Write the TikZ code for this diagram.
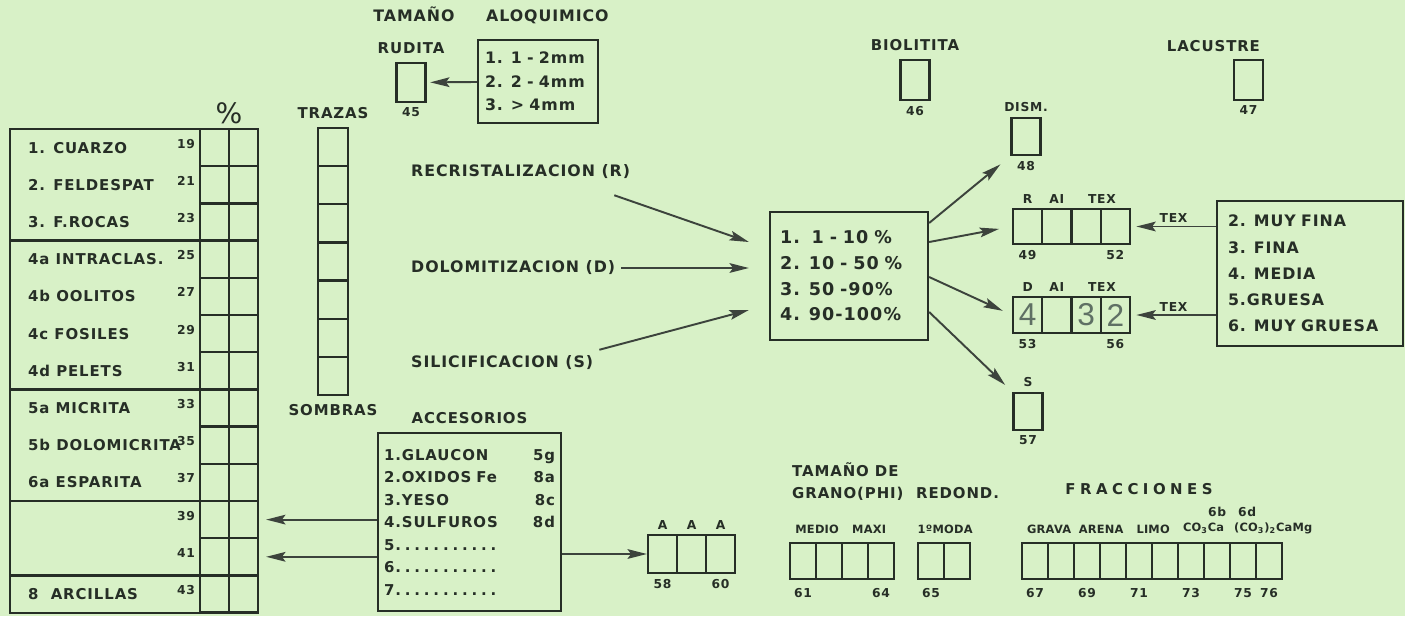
\documentclass[tikz,border=0pt]{standalone}
\usepackage{fontspec}
\setmainfont{DejaVu Sans}[LetterSpace=6]
\newfontfamily\handfont{Liberation Sans}
\usepackage{tikz}
\usetikzlibrary{arrows.meta, positioning, calc}

\definecolor{paper}{RGB}{216,241,199}
\definecolor{ink}{RGB}{38,46,38}
\definecolor{pencil}{RGB}{95,112,100}

\begin{document}
\begin{tikzpicture}[x=0.02cm, y=-0.02cm,
    every node/.style={text=ink, font=\bfseries\fontsize{8.5}{10}\selectfont},
    head/.style={font=\bfseries\fontsize{9}{11}\selectfont},
    cell/.style={draw=ink, line width=1.3pt, minimum width=0.58cm, minimum height=0.72cm, inner sep=0pt},
    frame/.style={draw=ink, line width=1.3pt},
    listbox/.style={draw=ink, line width=1.3pt, align=left, inner ysep=0pt},
    tag/.style={font=\bfseries\fontsize{7}{8}\selectfont, inner sep=1.5pt},
    ftag/.style={font=\bfseries\fontsize{6.5}{7}\selectfont\addfontfeature{LetterSpace=2}, inner sep=1.5pt},
    num/.style={font=\bfseries\fontsize{7}{8}\selectfont, inner sep=1.5pt},
    arr/.style={draw=ink!90, line width=1.1pt, -{Stealth[length=11pt, width=5.5pt, inset=2pt]}}]

    \fill[paper] (0,0) rectangle (1405,616);
    \useasboundingbox (0,0) rectangle (1405,616);

    % tabla de componentes
    \draw[frame] (10,129) rectangle (200,613);
    \foreach \y in {240.6, 389.4, 501, 575.4}
        \draw[frame] (10,\y) -- (200,\y);
    \foreach \txt/\num [count=\i] in {1. CUARZO/19, 2. FELDESPAT/21, 3. F.ROCAS/23, 4a INTRACLAS./25, 4b OOLITOS/27, 4c FOSILES/29, 4d PELETS/31, 5a MICRITA/33, 5b DOLOMICRITA/35, 6a ESPARITA/37, {}/39, {}/41, 8\ \ ARCILLAS/43} {
        \node[cell, minimum height=0.744cm] (pa\i) at (214.5, {129+(\i-0.5)*37.2}) {};
        \node[cell, minimum height=0.744cm] (pb\i) at (243.5, {129+(\i-0.5)*37.2}) {};
        \node[anchor=west] (lab\i) at (22, {129+(\i-0.5)*37.2}) {\txt};
        \node[num, anchor=east] (nr\i) at (198, {125+(\i-0.5)*37.2}) {\num};
    }
    \node[font=\fontsize{16}{16}\selectfont] (pcsign) at (229,113) {\%};

    % trazas
    \foreach \i in {1,...,7}
        \node[cell, minimum width=0.6cm, minimum height=0.763cm] (tz\i) at (333, {128+(\i-0.5)*38.14}) {};
    \node[above=1pt of tz1] (trazas) {TRAZAS};
    \node[below=1pt of tz7] (sombras) {SOMBRAS};

    % tamano aloquimico
    \node[head] (tamalo) at (491,15) {TAMAÑO\quad\quad ALOQUIMICO};
    \node[cell, minimum height=0.78cm] (b45) at (411,82.5) {};
    \node[above=1pt of b45] (rudita) {RUDITA};
    \node[num, below=1pt of b45] (n45) {45};
    \node[listbox, text width=2.12cm, inner xsep=0.14cm, minimum height=1.66cm, font=\bfseries\fontsize{9}{13.4}\selectfont] (tam) at (538,81.5) {1. 1 - 2mm\\2. 2 - 4mm\\3. > 4mm};
    \draw[arr, shorten >=2pt] (tam) -- (b45);

    \node[cell, minimum height=0.8cm] (b46) at (915,80) {};
    \node[above=1pt of b46] (biol) {BIOLITITA};
    \node[num, below=1pt of b46] (n46) {46};
    \node[cell, minimum height=0.8cm] (b47) at (1248.5,80) {};
    \node[anchor=south east] (lacus) at ($(b47.north east)+(2,-1)$) {LACUSTRE};
    \node[num, below=1pt of b47] (n47) {47};

    % procesos
    \node[anchor=west, head] (recr) at (405,172) {RECRISTALIZACION (R)};
    \node[anchor=west, head] (dolo) at (405,268) {DOLOMITIZACION (D)};
    \node[anchor=west, head] (sili) at (405,363) {SILICIFICACION (S)};
    \node[listbox, text width=2.76cm, inner xsep=0.2cm, minimum height=2.56cm, font=\bfseries\fontsize{10}{14.6}\selectfont] (pct) at (849,276) {1.\ \ 1 - 10 \%\\2. 10 - 50 \%\\3. 50 -90\%\\4. 90-100\%};
    \draw[arr] ($(recr.south east)+(-22,10)$) -- ($(pct.west)+(-20,-34)$);
    \draw[arr] (dolo.east) -- ($(pct.west)+(-20,-8)$);
    \draw[arr] (sili.north east) -- ($(pct.west)+(-20,34)$);

    \node[cell, minimum height=0.74cm] (b48) at (1026,136.5) {};
    \node[tag, above=1pt of b48] (dism) {DISM.};
    \node[num, below=1pt of b48] (n48) {48};
    \foreach \i in {1,...,4} {
        \node[cell, minimum width=0.585cm, minimum height=0.7cm] (r\i) at ({1027.6+(\i-1)*29.25}, 226.5) {};
        \node[cell, minimum width=0.585cm, minimum height=0.72cm] (d\i) at ({1027.6+(\i-1)*29.25}, 315) {};
    }
    \node[tag, above=1pt of r1] (r-lab) {R};
    \node[tag, above=1pt of r2] (r-ai) {AI};
    \node[tag, above=1pt of r3.north east] (r-tex) {TEX};
    \node[num, below=1pt of r1] (n49) {49};
    \node[num, below=1pt of r4] (n52) {52};
    \node[tag, above=1pt of d1] (d-lab) {D};
    \node[tag, above=1pt of d2] (d-ai) {AI};
    \node[tag, above=1pt of d3.north east] (d-tex) {TEX};
    \node[num, below=1pt of d1] (n53) {53};
    \node[num, below=1pt of d4] (n56) {56};
    \node[font=\handfont\fontsize{18}{18}\selectfont, text=pencil] (h4) at (d1) {4};
    \node[font=\handfont\fontsize{18}{18}\selectfont, text=pencil] (h3) at (d3) {3};
    \node[font=\handfont\fontsize{18}{18}\selectfont, text=pencil] (h2) at (d4) {2};
    \node[cell, minimum height=0.74cm] (b57) at (1028,411.5) {};
    \node[tag, above=1pt of b57] (s-lab) {S};
    \node[num, below=1pt of b57] (n57) {57};

    \draw[arr, shorten >=0.26cm] ($(pct.east)+(0,-53)$) -- (b48.south west);
    \draw[arr, shorten >=0.26cm] ($(pct.east)+(0,-34)$) -- (r1.west);
    \draw[arr, shorten >=0.2cm] ($(pct.east)+(0,1)$) -- (d1.west);
    \draw[arr, shorten >=0.2cm] ($(pct.east)+(0,36)$) -- (b57.north west);

    % textura
    \node[listbox, text width=3.28cm, inner xsep=0.22cm, minimum height=2.9cm, font=\bfseries\fontsize{9}{14.9}\selectfont] (texbox) at (1310,273.5) {2. MUY FINA\\3. FINA\\4. MEDIA\\5.GRUESA\\6. MUY GRUESA};
    \draw[arr, shorten >=3pt] (texbox.west |- r4) -- (r4.east) node[tag, midway, above] (tex1) {TEX};
    \draw[arr, shorten >=3pt] (texbox.west |- d4) -- (d4.east) node[tag, midway, above] (tex2) {TEX};

    % accesorios
    \node[listbox, text width=3.42cm, inner xsep=0.12cm, minimum height=3.56cm, font=\bfseries\fontsize{8.5}{12.8}\selectfont] (acc) at (469.5,522) {1.GLAUCON\hfill 5g\\2.OXIDOS Fe\hfill 8a\\3.YESO\hfill 8c\\4.SULFUROS\hfill 8d\\5.\foreach \k in {1,...,10}{\hspace{2.2pt}.}\\6.\foreach \k in {1,...,10}{\hspace{2.2pt}.}\\7.\foreach \k in {1,...,10}{\hspace{2.2pt}.}};
    \node[above=1pt of acc] (acc-tit) {ACCESORIOS};
    \draw[arr, shorten >=0.14cm] (acc.west |- pb11) -- (pb11.east);
    \draw[arr, shorten >=0.14cm] (acc.west |- pb12) -- (pb12.east);
    \foreach \i in {1,2,3} {
        \node[cell, minimum height=0.76cm] (a\i) at ({662.5+(\i-1)*29}, 554) {};
        \node[tag, above=1pt of a\i] (a-lab\i) {A};
    }
    \node[num, below=1pt of a1] (n58) {58};
    \node[num, below=1pt of a3] (n60) {60};
    \draw[arr] (acc.east |- a1) -- (a1.west);

    % grano, redondez, fracciones
    \node[anchor=west, align=left, font=\bfseries\fontsize{8.5}{13}\selectfont] (grano) at (786,481.5) {TAMAÑO DE\\GRANO(PHI)};
    \foreach \i in {1,...,4}
        \node[cell, minimum width=0.52cm] (g\i) at ({803+(\i-1)*26}, 561) {};
    \node[ftag, above=3pt of g1.north east] (medio) {MEDIO};
    \node[ftag, above=3pt of g3.north east] (maxi) {MAXI};
    \node[num, below=3pt of g1] (n61) {61};
    \node[num, below=3pt of g4] (n64) {64};
    \node[anchor=west] (redond) at (910,493) {REDOND.};
    \foreach \i in {1,2}
        \node[cell, minimum width=0.52cm] (m\i) at ({931+(\i-1)*26}, 561) {};
    \node[ftag, above=3pt of m1.north east] (moda) {1ºMODA};
    \node[num, below=3pt of m1] (n65) {65};
    \node[font=\bfseries\fontsize{8.5}{10}\selectfont\addfontfeature{LetterSpace=30}] (fracc) at (1139,489) {FRACCIONES};
    \foreach \i in {1,...,10}
        \node[cell, minimum width=0.52cm] (f\i) at ({1035+(\i-1)*26}, 561) {};
    \node[ftag, above=3pt of f1.north east] (grava) {GRAVA};
    \node[ftag, above=3pt of f3.north east] (arena) {ARENA};
    \node[ftag, above=3pt of f5.north east] (limo) {LIMO};
    \node[ftag, anchor=south east] (co3ca) at ($(f8.north east)+(-4,-5)$) {CO\textsubscript{3}Ca};
    \node[ftag, anchor=south west] (co3mg) at ($(f8.north east)+(0,-5)$) {(CO\textsubscript{3})\textsubscript{2}CaMg};
    \node[tag, anchor=south] (six-b) at ($(co3ca.north east)+(-10,0)$) {6b};
    \node[tag, anchor=south] (six-d) at ($(co3mg.north west)+(16,0)$) {6d};
    \node[num, below=3pt of f1] (n67) {67};
    \node[num, below=3pt of f3] (n69) {69};
    \node[num, below=3pt of f5] (n71) {71};
    \node[num, below=3pt of f7] (n73) {73};
    \node[num, below=3pt of f9] (n75) {75};
    \node[num, below=3pt of f10] (n76) {76};
\end{tikzpicture}
\end{document}
